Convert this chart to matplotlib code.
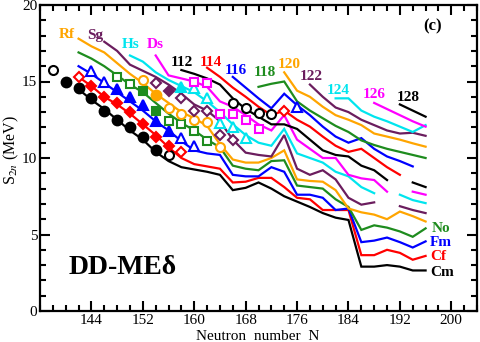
import numpy as np
import matplotlib

matplotlib.use("Agg")
import matplotlib.pyplot as plt

# theory S2n curves (MeV), even N from the start value, nan = gap
cm_start, cm_s = 142, [14.5, 13.8, 13.2, 12.5, 11.8, 11.2, 10.4, 9.8, 9.4, 9.25, 9.1, 8.9, 7.9, 8.05,
                       8.4, 8.0, 7.5, 7.15, 6.8, 6.4, 6.1, 5.95, 2.9, 2.9, 3.0, 2.9, 2.65, 2.65]
cf_start, cf_s = 142, [15.3, 14.7, 14.0, 13.5, 12.9, 12.2, 11.5, 10.7, 10.0, 9.6, 9.45, 9.3, 8.4, 8.45,
                       8.7, 8.7, 8.1, 7.4, 7.3, 6.6, 6.6, 6.6, 3.65, 3.65, 4.0, 3.8, 3.35, 3.6]
fm_start, fm_s = 142, [16.0, 15.5, 14.9, 14.3, 13.7, 13.1, 12.4, 11.8, 11.1, 10.5, 10.3, 10.2, 8.9, 8.8,
                       8.8, 9.4, 9.1, 7.6, 7.6, 7.4, 6.6, 6.7, 4.5, 4.6, 4.8, 4.5, 4.15, 4.55]
no_start, no_s = 142, [16.9, 16.5, 16.0, 15.4, 14.8, 14.3, 13.6, 12.9, 12.3, 11.8, 11.2, 10.7, 9.5, 9.3,
                       9.2, 9.8, 9.85, 8.2, 8.1, 8.0, 7.3, 6.8, 5.3, 5.6, 5.45, 5.2, 4.85, 5.4]
rf_start, rf_s = 142, [17.8, 17.3, 16.9, 16.2, 15.5, 14.9, 14.2, 13.6, 13.0, 12.6, 12.1, 10.9, 9.9, 9.7,
                       9.7, 10.0, 10.5, 8.6, 8.5, 8.45, 7.9, 6.7, 6.45, 6.3, 6.0, 6.5, 6.2, 5.85]
sg_start, sg_s = 146, [17.6, 17.0, 16.1, 15.7, 15.3, 14.8, 14.2, 13.5, 13.1, 12.4, 11.2, 10.35, 10.2,
                       10.1, 11.5, 9.3, 8.9, 9.2, 8.6, 7.4, 6.95, 7.1, np.nan, 6.85, 6.6, 6.4]
hs_start, hs_s = 150, [16.7, 16.3, 15.6, 15.1, 14.7, 14.3, 13.7, 13.0, 12.2, 11.5, 11.0, 10.8, 11.9,
                       10.3, 10.0, 9.7, 9.1, 8.8, 8.1, 7.7, np.nan, 7.6, 7.25, 7.05]
ds_start, ds_s = 154, [16.7, 15.4, 15.2, 15.0, 14.65, 13.7, 13.35, 12.8, 12.2, 11.8, 12.8, 11.2, 10.6,
                       10.0, 10.0, 8.9, 8.67, 8.56, 7.8, np.nan, 7.8, 7.6]
z112_start, z112_s = 158, [15.75, 15.5, 15.2, 14.8, 13.9, 13.2, 12.7, 12.2, 12.2, 11.9, 11.2, 10.5,
                           10.2, 10.1, 9.5, 9.2, 8.56, np.nan, 8.4, 8.1]
z114_start, z114_s = 162, [15.9, 15.3, 14.6, 14.0, 13.35, 12.8, 13.1, 12.5, 12.05, 11.4, 10.8, 10.4,
                           10.6, 10.0, 9.4, 8.9]
z116_start, z116_s = 166, [15.3, 14.6, 13.9, 13.25, 14.2, 13.45, 12.8, 12.05, 11.4, 11.0, 11.3, 10.6,
                           10.1, 9.8, 9.45]
z118_start, z118_s = 170, [14.65, 14.85, 15.0, 13.7, 13.1, 12.6, 12.1, 11.7, 11.15, 10.85, 10.6, 10.4,
                           10.2, 10.0]
z120_start, z120_s = 174, [15.6, 14.4, 14.0, 13.35, 12.8, 12.5, 12.15, 11.6, 11.4, 11.2, 10.96, 10.74]
z122_start, z122_s = 178, [14.8, 14.0, 13.3, 13.0, 12.5, 12.15, 11.8, 11.6, 11.65, 11.45]
z124_start, z124_s = 182, [13.9, 13.9, 13.1, 12.7, 12.4, 12.05, 11.7, 12.15]
z126_start, z126_s = 188, [13.6, 13.2, 12.8, 12.4, 12.05]
z128_start, z128_s = 192, [13.5, 13.1, 12.7]

# experimental points: (N, S2n) filled / open
cm_fill = ([140, 142, 144, 146, 148, 150, 152, 154], [15.0, 14.6, 13.9, 13.05, 12.5, 12.0, 11.4, 10.5])
cm_open = ([138, 156], [15.75, 10.2])
cf_fill = ([144, 146, 148, 150, 152, 154, 156], [14.7, 14.0, 13.6, 13.0, 12.2, 11.4, 10.8])
cf_open = ([142, 158], [15.3, 10.4])
fm_fill = ([148, 150, 152, 154, 156], [14.5, 14.0, 13.45, 12.4, 11.75])
fm_open = ([144, 146, 158, 160], [15.7, 15.0, 11.3, 10.8])
no_fill = ([152, 154], [14.35, 13.1])
no_open = ([148, 150, 156, 158, 160, 162], [15.3, 14.85, 12.4, 12.25, 11.75, 11.1])
rf_fill = ([154], [14.1])
rf_open = ([152, 156, 158, 160, 162, 164], [15.1, 13.3, 12.9, 12.5, 12.35, 10.7])
sg_fill = ([156], [14.4])
sg_open = ([154, 158, 160, 162, 164, 166], [14.9, 13.9, 13.1, 13.05, 11.5, 11.2])
hs_fill = ([158], [14.65])
hs_open = ([160, 162, 164, 166, 168], [14.55, 13.9, 12.3, 12.0, 11.3])
ds_open = ([160, 162, 164, 166, 168, 170], [15.0, 14.9, 12.85, 12.85, 12.5, 11.9])
z112_open = ([166, 168, 170, 172], [13.6, 13.25, 12.95, 12.9])
z114_open = ([174], [13.1])
z116_open = ([176], [13.35])

BLACK, RED, BLUE, GREEN = "#000000", "#ff0000", "#0000ff", "#1e8c1e"
ORANGE, PURPLE, CYAN, MAGENTA = "#ffa500", "#6b1d5e", "#00e5ee", "#ff00ff"

chains = [
    (cm_start, cm_s, BLACK), (cf_start, cf_s, RED), (fm_start, fm_s, BLUE), (no_start, no_s, GREEN),
    (rf_start, rf_s, ORANGE), (sg_start, sg_s, PURPLE), (hs_start, hs_s, CYAN), (ds_start, ds_s, MAGENTA),
    (z112_start, z112_s, BLACK), (z114_start, z114_s, RED), (z116_start, z116_s, BLUE),
    (z118_start, z118_s, GREEN), (z120_start, z120_s, ORANGE), (z122_start, z122_s, PURPLE),
    (z124_start, z124_s, CYAN), (z126_start, z126_s, MAGENTA), (z128_start, z128_s, BLACK),
]

points = [
    (cm_fill, "o", BLACK, True, 7), (cm_open, "o", BLACK, False, 6.5),
    (cf_fill, "D", RED, True, 5.5), (cf_open, "D", RED, False, 5.5),
    (fm_fill, "^", BLUE, True, 7), (fm_open, "^", BLUE, False, 7),
    (no_fill, "s", GREEN, True, 6), (no_open, "s", GREEN, False, 6),
    (rf_fill, "o", ORANGE, True, 7), (rf_open, "o", ORANGE, False, 6.5),
    (sg_fill, "D", PURPLE, True, 5.5), (sg_open, "D", PURPLE, False, 5.5),
    (hs_fill, "^", CYAN, True, 7), (hs_open, "^", CYAN, False, 7),
    (ds_open, "s", MAGENTA, False, 6),
    (z112_open, "o", BLACK, False, 6.5), (z114_open, "D", RED, False, 5.5),
    (z116_open, "^", BLUE, False, 7),
]

labels = [
    ("Rf", 67, 35, ORANGE), ("Sg", 95, 35, PURPLE), ("Hs", 131, 45, CYAN), ("Ds", 155, 45, MAGENTA),
    ("112", 182, 62, BLACK), ("114", 211, 62, RED), ("116", 236, 70, BLUE), ("118", 265, 73, GREEN),
    ("120", 289, 64, ORANGE), ("122", 311, 77, PURPLE), ("124", 338, 91, CYAN),
    ("126", 374, 95, MAGENTA), ("128", 408, 97, BLACK),
    ("No", 441, 229, GREEN), ("Fm", 441, 243, BLUE), ("Cf", 438, 257, RED), ("Cm", 442, 273, BLACK),
]

plt.rcParams["font.family"] = ["Liberation Serif", "DejaVu Serif"]
plt.rcParams["mathtext.fontset"] = "stix"

W, H = 480, 342
fig = plt.figure(figsize=(W / 100, H / 100), dpi=100)
ax = fig.add_axes([40 / W, 1 - 311 / H, 437 / W, 306 / H])

for start, s, color in chains:
    n = np.arange(start, start + 2 * len(s), 2)
    ax.plot(n, s, color=color, lw=1.6, solid_joinstyle="miter", zorder=2)

for (n, s), marker, color, filled, ms in points:
    ax.plot(n, s, ls="none", marker=marker, ms=ms, mec=color, mew=1.5,
            mfc=color if filled else "white", zorder=3)

for text, x, y, color in labels:
    fig.text(x / W, 1 - y / H, text, color=color, fontsize=11, fontweight="bold",
             ha="center", va="center")

fig.text(123 / W, 1 - 268 / H, "DD-ME\u03b4", fontsize=20, fontweight="bold",
         ha="center", va="center")
fig.text(433 / W, 1 - 26 / H, "(c)", fontsize=12, fontweight="bold", ha="center", va="center")

ax.set_xlim(136, 204)
ax.set_ylim(0, 20)
ax.set_xticks(np.arange(144, 201, 8))
ax.set_xticks(np.arange(136, 205, 2), minor=True)
ax.set_yticks([0, 5, 10, 15, 20])
ax.set_yticks(np.arange(0, 21, 1), minor=True)
ax.tick_params(which="both", direction="in", top=True, right=True, width=1.5, labelsize=11)
ax.tick_params(which="major", length=7, pad=2)
ax.tick_params(which="minor", length=4)
for sp in ax.spines.values():
    sp.set_linewidth(1.6)

fig.text(258 / W, 1 - 336 / H, "Neutron  number  N", fontsize=11, ha="center", va="center")
fig.text(11 / W, 1 - 150 / H, "S$_{2n}$ (MeV)", fontsize=11.5, rotation=90, ha="center", va="center")

fig.savefig("out.png", dpi=100)
